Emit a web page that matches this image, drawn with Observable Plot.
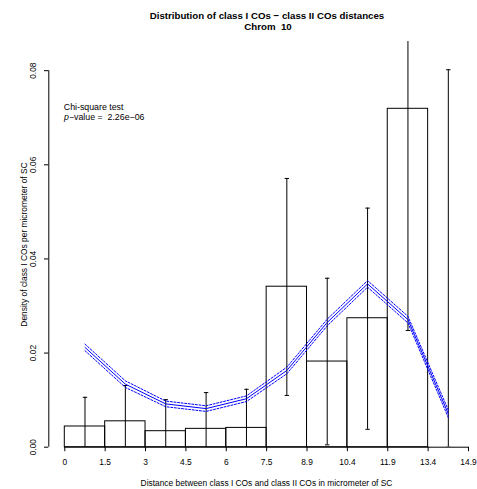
<!DOCTYPE html>
<html>
<head>
<meta charset="utf-8">
<script src="https://cdn.jsdelivr.net/npm/d3@7"></script>
<script src="https://cdn.jsdelivr.net/npm/@observablehq/plot@0.6"></script>
<style>
  html, body { margin: 0; padding: 0; background: white; }
</style>
</head>
<body>
<div id="chart"></div>
<script>
// ---- data ----
const binStart = [0, 1.49, 2.98, 4.47, 5.96, 7.45, 8.94, 10.43, 11.92, 13.41];
const binEnd   = [1.49, 2.98, 4.47, 5.96, 7.45, 8.94, 10.43, 11.92, 13.41, 14.9];
const binMid   = [0.745, 2.235, 3.725, 5.215, 6.705, 8.195, 9.685, 11.175, 12.665, 14.155];
const density  = [0.0044, 0.0055, 0.0034, 0.0039, 0.0041, 0.0341, 0.0182, 0.0274, 0.0719, 0];
const errLow   = [0, 0, 0, 0, 0, 0.0110, 0.0005, 0.0038, 0.0248, 0];
const errHigh  = [0.0106, 0.0131, 0.0101, 0.0116, 0.0123, 0.0571, 0.0359, 0.0508, 0.095, 0.0802];
const expected = [0.0212, 0.0134, 0.0092, 0.0082, 0.0103, 0.0163, 0.0265, 0.0347, 0.0271, 0.0071];
const expUpper = [0.0219, 0.0141, 0.0098, 0.0088, 0.0109, 0.0170, 0.0272, 0.0354, 0.0278, 0.0079];
const expLower = [0.0205, 0.0127, 0.0086, 0.0076, 0.0097, 0.0156, 0.0258, 0.0340, 0.0264, 0.0063];
const xTicks = [0, 1.49, 2.98, 4.47, 5.96, 7.45, 8.94, 10.43, 11.92, 13.41, 14.9];
const xTickLabels = ["0", "1.5", "3", "4.5", "6", "7.5", "8.9", "10.4", "11.9", "13.4", "14.9"];
const yTicks = [0, 0.02, 0.04, 0.06, 0.08];
const yTickLabels = ["0.00", "0.02", "0.04", "0.06", "0.08"];
const titleLines = ["Distribution of class I COs \u2212 class II COs distances", "Chrom\u00a0 10"];
const xLabel = "Distance between class I COs and class II COs in micrometer of SC";
const yLabel = "Density of class I COs per micrometer of SC";
const testName = "Chi-square test";
const pValueText = "\u2212value =\u00a0 2.26e\u221206";

// ---- derived tables ----
const bars = binStart.map((s, i) => ({x1: s, x2: binEnd[i], y: density[i]}));
const errs = binMid.map((m, i) => ({x: m, lo: errLow[i], hi: errHigh[i]}));
const curve = binMid.map((m, i) => ({x: m, y: expected[i], up: expUpper[i], lo: expLower[i]}));
const xt = xTicks.map((v, i) => ({v, label: xTickLabels[i]}));
const yt = yTicks.map((v, i) => ({v, label: yTickLabels[i]}));

const hbar = {
  draw(ctx, size) {
    const w = Math.sqrt(size / Math.PI);
    ctx.moveTo(-w, 0);
    ctx.lineTo(w, 0);
  }
};

const W = 477, H = 489;
const mL = 48.3, mT = 41, mB = 42.3, mR = 0;
const fs = 8.4;

const chart = Plot.plot({
  width: W,
  height: H,
  marginLeft: mL,
  marginTop: mT,
  marginBottom: mB,
  marginRight: mR,
  style: {fontFamily: "'Liberation Sans', Arial, sans-serif", background: "white", color: "black", overflow: "visible"},
  x: {domain: [0, 14.9], range: [64.3, 468]},
  y: {domain: [0, 0.0862]},
  marks: [
    // histogram bars
    Plot.rect(bars, {x1: "x1", x2: "x2", y1: 0, y2: "y", fill: "none", stroke: "black", strokeWidth: 1}),
    // error bars
    Plot.ruleX(errs, {x: "x", y1: "lo", y2: "hi", stroke: "black", strokeWidth: 1, clip: true}),
    Plot.dot(errs, {x: "x", y: "hi", symbol: hbar, r: 2.2, stroke: "black", strokeWidth: 1, clip: true}),
    Plot.dot(errs, {x: "x", y: "lo", symbol: hbar, r: 2.2, stroke: "black", strokeWidth: 1, clip: true}),
    // expected density curve and band
    Plot.line(curve, {x: "x", y: "up", stroke: "blue", strokeWidth: 1, strokeDasharray: "2,1.6"}),
    Plot.line(curve, {x: "x", y: "lo", stroke: "blue", strokeWidth: 1, strokeDasharray: "2,1.6"}),
    Plot.line(curve, {x: "x", y: "y", stroke: "blue", strokeWidth: 1}),
    // axes lines
    Plot.ruleY([0], {x1: 0, x2: 14.9, stroke: "black"}),
    Plot.ruleX([0], {x: d => d, y1: 0, y2: 0.08, dx: -16, stroke: "black"}),
    Plot.axisX({anchor: "bottom", ticks: xTicks, tickSize: 4.5, tickFormat: () => "", label: null}),
    Plot.axisY({anchor: "left", ticks: yTicks, tickSize: 4.3, tickFormat: () => "", label: null}),
    // tick labels
    Plot.text(xt, {x: "v", y: 0, dy: 15.5, text: "label", fontSize: fs, lineAnchor: "middle", fill: "black"}),
    Plot.text(yt, {x: 0, y: "v", dx: -31.8, text: "label", rotate: -90, fontSize: fs, lineAnchor: "middle", fill: "black"}),
    // axis titles
    Plot.text([xLabel], {frameAnchor: "top-left", dx: 266 - mL, dy: 482.3 - mT, text: d => d, fontSize: fs, lineAnchor: "middle", textAnchor: "middle", fill: "black"}),
    Plot.text([yLabel], {frameAnchor: "top-left", dx: 24 - mL, dy: 244 - mT, text: d => d, rotate: -90, fontSize: fs, lineAnchor: "middle", textAnchor: "middle", fill: "black"}),
    // main title
    Plot.text([titleLines[0]], {frameAnchor: "top-left", dx: 266.5 - mL, dy: 15.7 - mT, text: d => d, fontSize: 9.7, fontWeight: "bold", lineAnchor: "middle", textAnchor: "middle", fill: "black"}),
    Plot.text([titleLines[1]], {frameAnchor: "top-left", dx: 267.5 - mL, dy: 26.7 - mT, text: d => d, fontSize: 9.7, fontWeight: "bold", lineAnchor: "middle", textAnchor: "middle", fill: "black"}),
    // test annotation
    Plot.text([testName], {frameAnchor: "top-left", dx: 63.3 - mL, dy: 106.7 - mT, text: d => d, fontSize: 8.8, lineAnchor: "middle", textAnchor: "start", fill: "black"}),
    Plot.text(["p"], {frameAnchor: "top-left", dx: 63.6 - mL, dy: 116.3 - mT, text: d => d, fontSize: 8.8, fontStyle: "italic", lineAnchor: "middle", textAnchor: "start", fill: "black"}),
    Plot.text([pValueText], {frameAnchor: "top-left", dx: 68.4 - mL, dy: 116.3 - mT, text: d => d, fontSize: 8.8, lineAnchor: "middle", textAnchor: "start", fill: "black"})
  ]
});
document.getElementById("chart").appendChild(chart);
</script>
</body>
</html>
